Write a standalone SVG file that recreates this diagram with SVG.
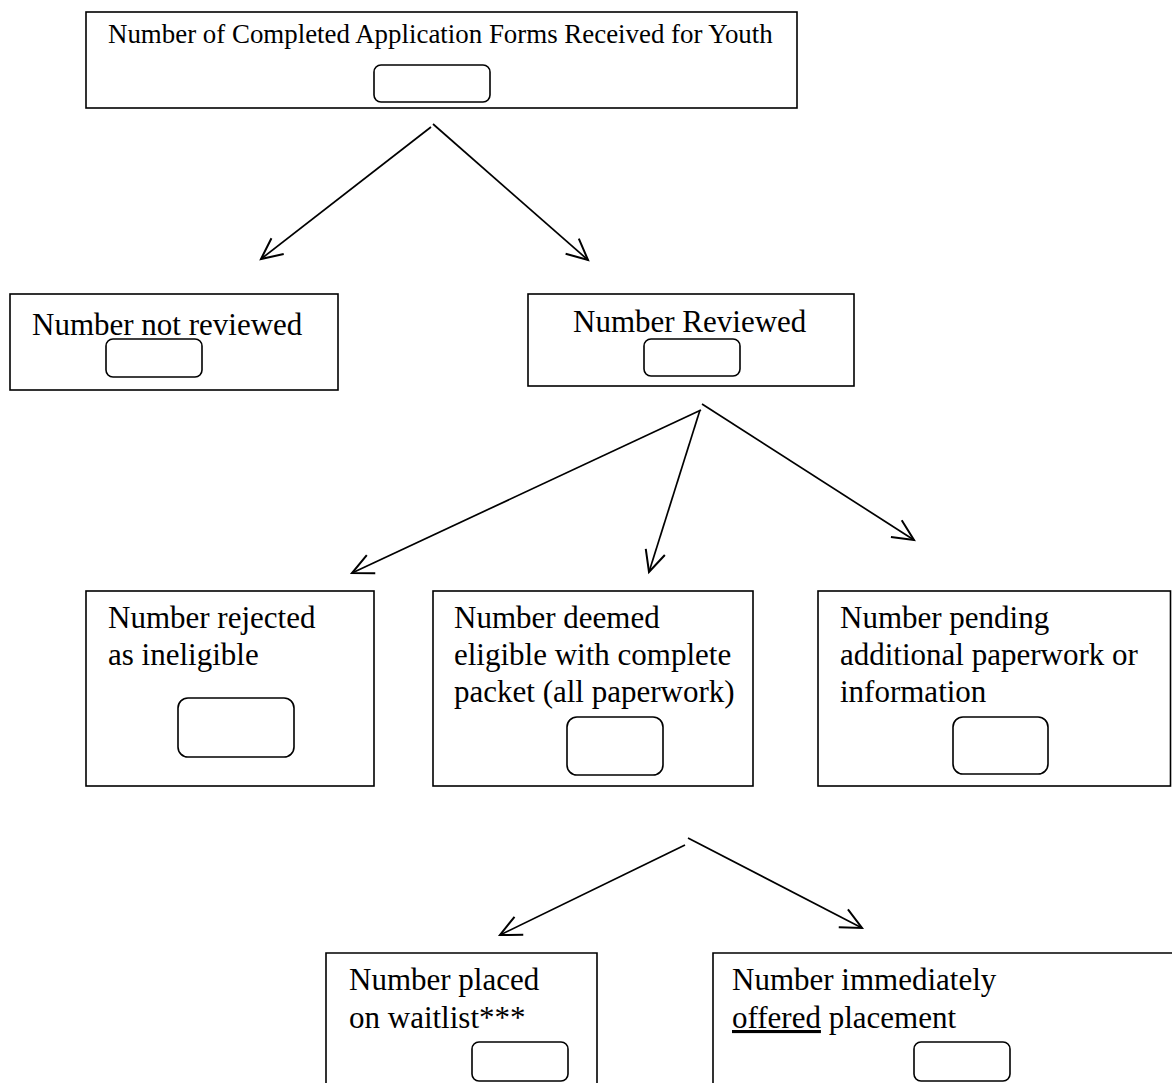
<svg xmlns="http://www.w3.org/2000/svg" width="1172" height="1083" viewBox="0 0 1172 1083">
<style>
.box{fill:#fff;stroke:#000;stroke-width:1.6}
.num{fill:#fff;stroke:#000;stroke-width:1.6}
.t{font-family:"Liberation Serif","Times New Roman",serif;font-size:31px;fill:#000}
.tt{font-family:"Liberation Serif","Times New Roman",serif;font-size:26.9px;fill:#000}
.c{fill:none;stroke:#000;stroke-width:1.7}
</style>
<defs>
<marker id="arr" markerUnits="userSpaceOnUse" markerWidth="30" markerHeight="30" viewBox="-25 -15 30 30" refX="0" refY="0" orient="auto">
<path d="M-21,-10 L0,0 L-21,10" fill="none" stroke="#000" stroke-width="2"/>
</marker>
</defs>
<rect width="1172" height="1083" fill="#fff"/>
<g id="n-received">
<rect class="box" x="86" y="12" width="711" height="96"/>
<text class="tt" x="108" y="43">Number of Completed Application Forms Received for Youth</text>
<rect class="num" x="374" y="65" width="116" height="37" rx="7"/>
</g>
<g id="n-not-reviewed">
<rect class="box" x="10" y="294" width="328" height="96"/>
<text class="t" x="32" y="335">Number not reviewed</text>
<rect class="num" x="106" y="339" width="96" height="38" rx="7"/>
</g>
<g id="n-reviewed">
<rect class="box" x="528" y="294" width="326" height="92"/>
<text class="t" x="573" y="332">Number Reviewed</text>
<rect class="num" x="644" y="339" width="96" height="37" rx="7"/>
</g>
<g id="n-rejected">
<rect class="box" x="86" y="591" width="288" height="195"/>
<text class="t" x="108" y="628">Number rejected</text>
<text class="t" x="108" y="665">as ineligible</text>
<rect class="num" x="178" y="698" width="116" height="59" rx="10"/>
</g>
<g id="n-eligible">
<rect class="box" x="433" y="591" width="320" height="195"/>
<text class="t" x="454" y="628">Number deemed</text>
<text class="t" x="454" y="665">eligible with complete</text>
<text class="t" x="454" y="702">packet (all paperwork)</text>
<rect class="num" x="567" y="717" width="96" height="58" rx="10"/>
</g>
<g id="n-pending">
<rect class="box" x="818" y="591" width="352.5" height="195"/>
<text class="t" x="840" y="628">Number pending</text>
<text class="t" x="840" y="665">additional paperwork or</text>
<text class="t" x="840" y="702">information</text>
<rect class="num" x="953" y="717" width="95" height="57" rx="10"/>
</g>
<g id="n-waitlist">
<path class="box" d="M326,1084 V953 H597 V1084"/>
<text class="t" x="349" y="990">Number placed</text>
<text class="t" x="349" y="1028">on waitlist***</text>
<rect class="num" x="472" y="1042" width="96" height="39" rx="7"/>
</g>
<g id="n-offered">
<path class="box" d="M713,1084 V953 H1174"/>
<text class="t" x="732" y="990">Number immediately</text>
<text class="t" x="732" y="1028"><tspan text-decoration="underline">offered</tspan> placement</text>
<rect class="num" x="914" y="1042" width="96" height="39" rx="7"/>
</g>
<g id="connectors">
<line class="c" x1="431" y1="127" x2="261" y2="259" marker-end="url(#arr)"/>
<line class="c" x1="433" y1="124" x2="588" y2="260" marker-end="url(#arr)"/>
<line class="c" x1="701" y1="410" x2="352" y2="573" marker-end="url(#arr)"/>
<line class="c" x1="700" y1="410" x2="649" y2="572" marker-end="url(#arr)"/>
<line class="c" x1="702" y1="404" x2="914" y2="540" marker-end="url(#arr)"/>
<line class="c" x1="685" y1="845" x2="500" y2="935" marker-end="url(#arr)"/>
<line class="c" x1="688" y1="838" x2="862" y2="928" marker-end="url(#arr)"/>
</g>
</svg>
